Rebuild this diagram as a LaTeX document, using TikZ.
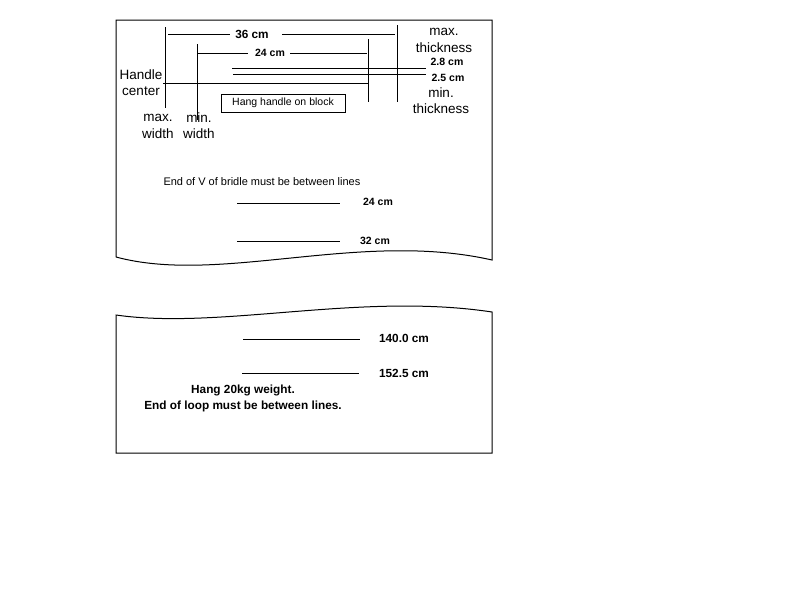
\documentclass[tikz,border=0pt]{standalone}
\usepackage{fontspec}
\setmainfont{Liberation Sans}
\usepackage{tikz}
\usetikzlibrary{positioning}
\tikzset{lbl/.style={font=\fontsize{13.5}{14}\selectfont,inner sep=0pt},
  dim/.style={font=\bfseries\fontsize{10.5}{11}\selectfont,inner sep=0pt},
  big/.style={font=\bfseries\fontsize{11.8}{12}\selectfont,inner sep=0pt},
  note/.style={font=\fontsize{10.5}{11}\selectfont,inner sep=0pt}}

\begin{document}
\begin{tikzpicture}[x=1pt,y=-1pt,line width=1pt,node distance=16pt]
    \useasboundingbox (0,0) rectangle (800,600);

    % upper sheet, torn at the bottom
    \draw (116,257) -- (116,20) -- (492,20) -- (492,260)
      .. controls (360,230) and (220,285) .. (116,257);
    % lower sheet, torn at the top
    \draw (116,315) .. controls (220,330) and (360,292) .. (492,312)
      -- (492,453) -- (116,453) -- cycle;

    % handle gauge
    \coordinate (mw1) at (165,27);  \coordinate (mw2) at (165,108);
    \coordinate (nw1) at (197,44);  \coordinate (nw2) at (197,120);
    \coordinate (ls1) at (368,39);  \coordinate (ls2) at (368,102);
    \coordinate (ll1) at (397,25);  \coordinate (ll2) at (397,102);
    \draw (mw1) -- (mw2);
    \draw (nw1) -- (nw2);
    \draw (ls1) -- (ls2);
    \draw (ll1) -- (ll2);

    \node[big] (d36) at (252,34) {36 cm};
    \draw (168,34) -- (230,34);
    \draw (282,34) -- (395,34);
    \node[dim] (d24) at (270,53) {24 cm};
    \draw (198,53) -- (248,53);
    \draw (290,53) -- (367,53);

    \node[dim] (t28) at (447,62) {2.8 cm};
    \node[dim] (t25) at (448,78) {2.5 cm};
    \coordinate (a28) at (232,68); \coordinate (b28) at (426,68);
    \coordinate (a25) at (233,74); \coordinate (b25) at (426,74);
    \draw (a28) -- (b28);
    \draw (a25) -- (b25);
    \draw (163,83) -- (368,83);

    \node[lbl] (hc1) at (141,75) {Handle};
    \node[lbl] (hc2) [below of=hc1] {center};
    \node[lbl] (mx1) at (158,118) {max.};
    \node[lbl] (mx2) [below of=mx1] {width};
    \node[lbl] (mn1) at (199,118) {min.};
    \node[lbl] (mn2) [below of=mn1] {width};
    \node[lbl] (tk1) at (444,32) {max.};
    \node[lbl] (tk2) [below of=tk1] {thickness};
    \node[lbl] (tn1) at (441,93) {min.};
    \node[lbl] (tn2) [below of=tn1] {thickness};

    \node[note,draw,line width=0.8pt,minimum width=124pt,minimum height=18pt]
      (blk) at (283,103) {Hang handle on block};

    % bridle gauge
    \node[note,anchor=west,font=\fontsize{11}{11}\selectfont] (vb) at (163,182)
      {End of V of bridle must be between lines};
    \node[dim] (v24) at (378,202) {24 cm};
    \node[dim] (v32) at (375,241) {32 cm};
    \draw (237,203) -- (340,203);
    \draw (237,241) -- (340,241);

    % loop gauge
    \node[big] (l140) at (404,338) {140.0 cm};
    \node[big] (l152) at (404,373) {152.5 cm};
    \draw (243,339) -- (360,339);
    \draw (242,373) -- (359,373);
    \node[big] (w1) at (243,390) {Hang 20kg weight.};
    \node[big] (w2) [below of=w1] {End of loop must be between lines.};
\end{tikzpicture}
\end{document}
